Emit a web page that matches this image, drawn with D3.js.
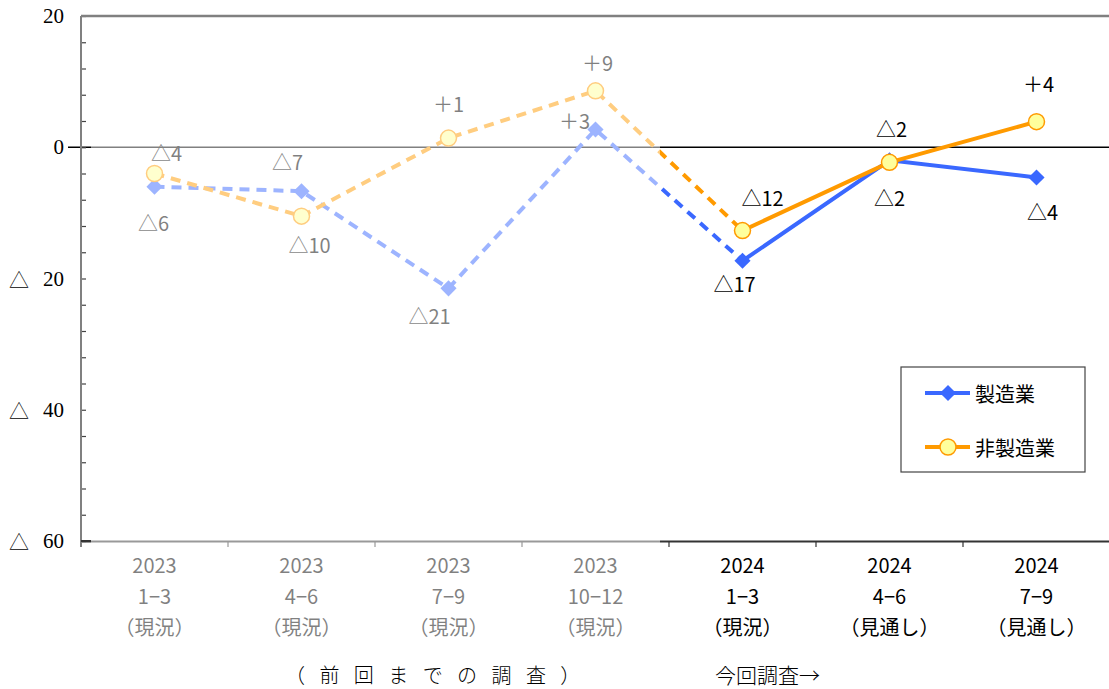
<!DOCTYPE html>
<html><head><meta charset="utf-8">
<script src="https://cdn.jsdelivr.net/npm/d3@7"></script>
<style>
html,body{margin:0;padding:0;background:#fff;}
svg{display:block;}
</style></head>
<body><svg id="c" width="1109" height="689"></svg>
<script>
// ---- data ----
const categories = ["2023_1","2023_4","2023_7","2023_10","2024_1","2024_4","2024_7"];
const catLine1 = ["2023","2023","2023","2023","2024","2024","2024"];
const catLine2 = ["1−3","4−6","7−9","10−12","1−3","4−6","7−9"];
const catLine3 = ["（現況）","（現況）","（現況）","（現況）","（現況）","（見通し）","（見通し）"];
const seriesNames = ["製造業","非製造業"];
const manufacturing = [-6.0, -6.7, -21.5, 2.7, -17.3, -2.0, -4.6];
const nonManufacturing = [-4.0, -10.5, 1.4, 8.6, -12.7, -2.3, 3.9];
const manufacturingLabels = ["△6","△7","△21","＋3","△17","△2","△4"];
const nonManufacturingLabels = ["△4","△10","＋1","＋9","△12","△2","＋4"];
const yTickValues = [20, 0, -20, -40, -60];
const yTickSigns = ["","","△","△","△"];
const yTickNumbers = ["20","0","20","40","60"];
const footerLeft = "（ 前 回 ま で の 調 査 ）";
const footerRight = "今回調査→";

// ---- layout ----
const svg = d3.select("#c");
const L = 81, R = 1110, T = 16, B = 541;
const x = d3.scaleBand().domain(categories).range([L, R]).padding(0);
const cx = i => x(categories[i]) + x.bandwidth()/2;
const y = d3.scaleLinear().domain([-60, 20]).range([B, T]);
const gothic = "'Noto Sans CJK JP','Noto Sans',sans-serif";
const serif = "'Liberation Serif','DejaVu Serif',serif";
const blue = "#3a68ff", orange = "#ff9a00";

// label offsets (placement)
const mOff = [[-1,36],[-14,-30],[-19,27],[-21,-9],[-8,23],[2,-32],[6,34]];
const nOff = [[12,-21],[8,28],[0,-35],[2,-28],[20,-33],[0,35],[2,-38]];

const g = svg.append("g");

// zero line
g.append("line").attr("x1", 68).attr("x2", 1109).attr("y1", y(0)).attr("y2", y(0))
  .attr("stroke", "#000").attr("stroke-width", 1.3);

// y axis (minor ticks every 4)
const yAxis = d3.axisLeft(y).tickValues(d3.range(-60, 21, 4)).tickSize(-5).tickFormat("");
const ya = g.append("g").attr("transform", `translate(${L},0)`).call(yAxis);
ya.select(".domain").remove();
ya.selectAll(".tick line").attr("stroke", "#444").attr("stroke-width", 1.2);

// x axis
const xa = g.append("g").attr("transform", `translate(0,${B})`)
  .call(d3.axisBottom(x).tickValues([]).tickSizeOuter(0));
xa.select(".domain").attr("stroke", "#333").attr("stroke-width", 2);
g.selectAll(".bt").data(categories.slice(1)).enter().append("line")
  .attr("x1", d => x(d)).attr("x2", d => x(d)).attr("y1", B).attr("y2", B + 6)
  .attr("stroke", "#333").attr("stroke-width", 1.2);

// x labels
const xl = g.selectAll(".xl").data(categories).enter().append("text")
  .attr("x", (d,i) => cx(i)).attr("text-anchor", "middle")
  .style("font-family", gothic).style("font-size", "20px").attr("fill", "#000");
xl.append("tspan").attr("x", (d,i)=>cx(i)).attr("y", 573).text((d,i)=>catLine1[i]);
xl.append("tspan").attr("x", (d,i)=>cx(i)).attr("y", 604).text((d,i)=>catLine2[i]);
xl.append("tspan").attr("x", (d,i)=>cx(i)).attr("y", 635).text((d,i)=>catLine3[i]);

// lines
const line = d3.line().x(d => cx(d.i)).y(d => y(d.v));
function drawSeries(vals, color) {
  const pts = vals.map((v,i)=>({v,i}));
  g.append("path").datum(pts.slice(0,5)).attr("d", line).attr("fill","none")
    .attr("stroke", color).attr("stroke-width", 4).attr("stroke-dasharray", "10,7");
  g.append("path").datum(pts.slice(4)).attr("d", line).attr("fill","none")
    .attr("stroke", color).attr("stroke-width", 4);
}
drawSeries(manufacturing, blue);
drawSeries(nonManufacturing, orange);

const diamond = d3.symbol().type(d3.symbolSquare).size(130);
g.selectAll(".dm").data(manufacturing).enter().append("path")
  .attr("d", diamond).attr("fill", blue)
  .attr("transform", (d,i) => `translate(${cx(i)},${y(d)}) rotate(45)`);
g.selectAll(".cm").data(nonManufacturing).enter().append("circle")
  .attr("cx", (d,i)=>cx(i)).attr("cy", d=>y(d)).attr("r", 8)
  .attr("fill", "#ffff9c").attr("stroke", orange).attr("stroke-width", 1.5);

// data labels
function drawLabels(vals, labels, off) {
  g.selectAll(null).data(vals).enter().append("text")
    .attr("x", (d,i)=>cx(i)+off[i][0]).attr("y", (d,i)=>y(d)+off[i][1])
    .attr("text-anchor","middle").attr("dominant-baseline","central")
    .style("font-family", gothic).style("font-size","20px").attr("fill","#000")
    .text((d,i)=>labels[i]);
}
drawLabels(manufacturing, manufacturingLabels, mOff);
drawLabels(nonManufacturing, nonManufacturingLabels, nOff);

// fade overlay for previous surveys
g.append("rect").attr("x", 91).attr("y", 0).attr("width", 660-91).attr("height", 645)
  .attr("fill", "#fff").attr("opacity", 0.5);

// frame: left axis and top border
g.append("line").attr("x1", L).attr("x2", L).attr("y1", T).attr("y2", B+6)
  .attr("stroke", "#808080").attr("stroke-width", 2);
g.append("line").attr("x1", L).attr("x2", 1109).attr("y1", T).attr("y2", T)
  .attr("stroke", "#808080").attr("stroke-width", 2.5);
g.append("line").attr("x1", L).attr("x2", L+10).attr("y1", B).attr("y2", B)
  .attr("stroke", "#333").attr("stroke-width", 2);

// y tick labels
const yl = g.selectAll(".yl").data(yTickValues).enter().append("text")
  .attr("y", d => y(d)).attr("text-anchor","end").attr("dominant-baseline","central")
  .style("font-family", serif).style("font-size","21px").attr("fill","#000");
yl.append("tspan").attr("x", 29).style("font-family", gothic).style("font-size","20px")
  .style("font-weight","300")
  .text((d,i)=>yTickSigns[i]);
yl.append("tspan").attr("x", 64).text((d,i)=>yTickNumbers[i]);

// legend
const lg = g.append("g");
lg.append("rect").attr("x", 901).attr("y", 367).attr("width", 184).attr("height", 105)
  .attr("fill", "#fff").attr("stroke", "#444").attr("stroke-width", 1.2);
const legY = [393, 447];
const legColors = [blue, orange];
seriesNames.forEach((n, k) => {
  lg.append("line").attr("x1", 925).attr("x2", 970).attr("y1", legY[k]).attr("y2", legY[k])
    .attr("stroke", legColors[k]).attr("stroke-width", 4);
  if (k === 0) {
    lg.append("path").attr("d", diamond).attr("fill", blue)
      .attr("transform", `translate(948,${legY[k]}) rotate(45)`);
  } else {
    lg.append("circle").attr("cx", 948).attr("cy", legY[k]).attr("r", 8)
      .attr("fill", "#ffff9c").attr("stroke", orange).attr("stroke-width", 1.5);
  }
  lg.append("text").attr("x", 975).attr("y", legY[k]).attr("dominant-baseline","central")
    .style("font-family", gothic).style("font-size","20px").attr("fill","#000").text(n);
});

// footer
g.append("text").attr("x", 285).attr("y", 674).attr("dominant-baseline","central")
  .style("font-family", gothic).style("font-weight","300").style("font-size","20px")
  .style("letter-spacing","5px").attr("xml:space","preserve").style("white-space","pre")
  .attr("fill","#000").text(footerLeft);
g.append("text").attr("x", 715).attr("y", 674).attr("dominant-baseline","central")
  .style("font-family", gothic).style("font-weight","300").style("font-size","21px")
  .attr("fill","#000").text(footerRight);
</script></body></html>
